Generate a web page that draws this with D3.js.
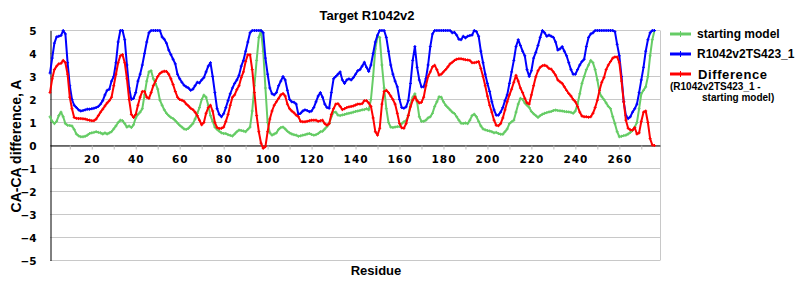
<!DOCTYPE html>
<html lang="en">
<head>
<meta charset="utf-8">
<title>Target R1042v2</title>
<script src="https://d3js.org/d3.v7.min.js"></script>
<style>
  body { margin: 0; background: #fff; }
  .lbl { font-family: "Liberation Sans", Arial, sans-serif; font-weight: bold; fill: #000; }
  .tick text { font-family: "DejaVu Sans", Verdana, sans-serif; font-weight: bold; font-size: 10.5px; fill: #000; }
</style>
</head>
<body>
<script>
var width = 800, height = 300;

// residue numbers run 1..276
var blue = [
  3.15, 3.8, 4.45, 4.72, 4.75, 4.78, 5.0, 4.85, 3.6, 2.6,
  2.0, 1.75, 1.65, 1.55, 1.5, 1.52, 1.55, 1.58, 1.58, 1.6,
  1.62, 1.65, 1.7, 1.8, 1.95, 2.2, 2.4, 2.45, 2.8, 3.0,
  3.6, 4.5, 5.0, 5.0, 4.6, 3.5, 2.5, 2.0, 2.05, 2.3,
  2.8, 3.1, 3.5, 4.0, 4.5, 4.9, 5, 5, 5, 5,
  5, 4.72, 4.62, 4.45, 4.15, 3.95, 3.75, 3.55, 3.1, 2.9,
  2.75, 2.62, 2.55, 2.5, 2.4, 2.45, 2.6, 2.75, 2.72, 2.85,
  2.95, 3.2, 3.45, 3.6, 3.0, 2.3, 1.6, 1.35, 1.25, 1.38,
  1.65, 1.95, 2.25, 2.5, 2.7, 2.85, 3.05, 3.45, 3.7, 4.1,
  4.5, 4.9, 5, 5, 5, 5, 5, 4.9, 3.8, 3.1,
  2.5, 2.25, 2.2, 2.3, 2.6, 2.8, 3.0, 2.85, 2.4, 2.0,
  1.9, 1.88, 1.8, 1.35, 1.4, 1.5, 1.55, 1.52, 1.47, 1.5,
  1.65, 1.9, 2.15, 2.3, 2.1, 1.8, 1.65, 1.62, 2.3, 2.9,
  3.0, 3.1, 3.2, 2.85, 2.7, 2.85, 2.9, 2.85, 2.95, 3.1,
  3.25, 3.3, 3.45, 3.62, 3.4, 3.22, 3.5, 4.0, 4.5, 4.8,
  5, 5, 5, 4.7, 4.1, 3.5, 3.1, 2.8, 2.55, 2.0,
  1.65, 1.62, 1.68, 1.95, 2.7, 3.7, 4.3, 3.4, 2.85, 2.55,
  2.55, 2.9, 3.5, 4.3, 4.85, 5, 5, 5, 5, 5,
  5, 5, 5, 4.9, 4.92, 4.8, 4.62, 4.6, 4.75, 4.68,
  4.75, 4.78, 4.8, 5, 4.95, 4.75, 4.1, 3.6, 3.1, 2.7,
  2.35, 1.9, 1.55, 1.32, 1.32, 1.45, 1.65, 1.95, 2.2, 2.7,
  3.2, 3.7, 4.3, 4.6, 4.35, 4.1, 3.9, 3.3, 3.0, 3.25,
  3.8, 4.05, 4.35, 4.7, 5.0, 4.9, 4.75, 4.8, 4.75, 4.7,
  4.5, 4.15, 4.2, 4.3, 4.1, 3.9, 3.6, 3.3, 3.1, 3.1,
  3.3, 3.5, 3.65, 3.75, 4.3, 4.7, 4.85, 4.9, 5, 5,
  5, 5, 5, 5, 5, 5, 5, 4.95, 4.4, 3.9,
  3.0, 1.9, 1.3, 1.17, 1.25, 1.45, 1.6, 1.8, 2.3, 2.85,
  3.4, 4.1, 4.6, 4.9, 5, 5
];

var red = [
  2.3, 2.9, 3.3, 3.45, 3.55, 3.57, 3.7, 3.6, 3.1, 2.1,
  1.6, 1.22, 1.18, 1.17, 1.17, 1.16, 1.15, 1.12, 1.1, 1.08,
  1.08, 1.15, 1.3, 1.45, 1.58, 1.72, 1.85, 1.95, 2.1, 2.6,
  3.1, 3.6, 3.9, 3.95, 3.6, 2.9, 2.0, 1.35, 1.22, 1.35,
  1.75, 2.1, 2.35, 2.35, 2.1, 2.05, 2.3, 2.6, 2.8, 3.0,
  3.13, 3.2, 3.23, 3.22, 3.1, 2.9, 2.65, 2.35, 2.1, 2.0,
  1.97, 1.92, 1.8, 1.72, 1.62, 1.56, 1.45, 1.3, 1.1, 0.9,
  1.0, 1.4, 1.65, 1.75, 1.5, 1.0, 0.78, 0.74, 0.75, 0.8,
  1.05, 1.35, 1.75, 2.1, 2.2, 2.43, 2.6, 2.95, 3.2, 3.65,
  3.95, 3.95, 3.3, 2.3, 1.3, 0.6, 0.1, -0.12, -0.05, 0.6,
  1.15, 1.5, 1.75, 1.9, 2.05, 2.2, 2.26, 2.15, 1.8, 1.6,
  1.5, 1.42, 1.32, 1.25, 1.05, 1.03, 1.03, 1.05, 1.08, 1.1,
  1.1, 1.1, 1.05, 1.08, 1.1, 0.95, 0.88, 0.95, 1.35, 1.6,
  1.8, 1.82, 1.7, 1.56, 1.6, 1.65, 1.68, 1.7, 1.72, 1.76,
  1.8, 1.8, 1.82, 1.95, 1.95, 1.85, 1.7, 1.2, 0.6, 0.45,
  0.75, 1.8, 2.35, 2.4, 2.3, 2.15, 2.0, 1.8, 1.4, 0.95,
  0.77, 0.75, 0.95, 1.3, 1.68, 1.97, 2.12, 1.95, 1.85, 1.88,
  2.1, 2.6, 3.0, 3.2, 3.42, 3.49, 3.3, 3.06, 3.1, 3.2,
  3.3, 3.42, 3.55, 3.62, 3.7, 3.75, 3.77, 3.77, 3.75, 3.73,
  3.72, 3.7, 3.6, 3.6, 3.62, 3.65, 3.35, 3.0, 2.6, 2.15,
  1.75, 1.45, 1.1, 0.88, 0.86, 0.95, 1.2, 1.55, 1.9, 2.2,
  2.45, 2.75, 3.05, 2.8, 2.5, 2.3, 2.05, 1.85, 1.8, 2.2,
  2.6, 2.99, 3.25, 3.4, 3.47, 3.49, 3.45, 3.35, 3.32, 3.2,
  3.06, 2.85, 2.77, 2.7, 2.55, 2.4, 2.26, 2.15, 2.0, 1.9,
  1.7, 1.45, 1.28, 1.25, 1.25, 1.23, 1.25, 1.4, 1.65, 1.97,
  2.4, 2.75, 2.95, 3.3, 3.5, 3.65, 3.8, 3.85, 3.85, 3.6,
  2.8, 1.9, 1.1, 0.75, 0.68, 0.67, 0.78, 0.5, 0.55, 1.05,
  1.45, 1.5, 1.0, 0.3, 0.02, 0.0
];

var green = [
  1.25, 1.05, 0.95, 1.05, 1.3, 1.45, 1.25, 0.95, 0.88, 0.87,
  0.85, 0.7, 0.5, 0.42, 0.38, 0.38, 0.4, 0.45, 0.52, 0.55,
  0.57, 0.6, 0.57, 0.55, 0.5, 0.55, 0.5, 0.55, 0.6, 0.72,
  0.85, 1.0, 1.1, 1.08, 0.95, 0.8, 0.85, 0.78, 0.9, 1.2,
  1.35, 1.45, 1.6, 2.2, 2.8, 3.2, 3.25, 2.9, 2.7, 2.45,
  1.97, 1.75, 1.55, 1.4, 1.3, 1.22, 1.17, 1.08, 0.98, 0.88,
  0.8, 0.72, 0.7, 0.75, 0.85, 0.95, 1.15, 1.4, 1.65, 2.0,
  2.19, 2.1, 1.75, 1.3, 1.05, 0.8, 0.7, 0.62, 0.55, 0.52,
  0.52, 0.47, 0.44, 0.41, 0.5, 0.6, 0.67, 0.65, 0.63, 0.6,
  0.7, 0.8, 1.5, 2.6, 3.7, 4.7, 5.0, 4.1, 2.5, 1.0,
  0.55, 0.45, 0.5, 0.55, 0.7, 0.78, 0.8, 0.72, 0.62, 0.55,
  0.5, 0.47, 0.45, 0.4, 0.42, 0.45, 0.47, 0.5, 0.52, 0.48,
  0.45, 0.47, 0.52, 0.6, 0.62, 0.72, 0.82, 0.95, 1.25, 1.45,
  1.45, 1.32, 1.3, 1.33, 1.35, 1.38, 1.4, 1.42, 1.45, 1.48,
  1.5, 1.52, 1.55, 1.56, 1.6, 1.55, 2.0, 3.0, 4.2, 4.75,
  4.7, 3.5, 2.5, 1.6, 1.0, 0.8, 0.78, 0.8, 0.82, 0.83,
  0.95, 1.03, 1.08, 1.3, 1.8, 2.1, 2.25, 1.9, 1.25, 1.05,
  1.05, 1.1, 1.2, 1.25, 1.4, 1.7, 1.9, 2.12, 2.1, 1.9,
  1.75, 1.65, 1.55, 1.45, 1.39, 1.25, 1.1, 0.97, 0.96, 0.98,
  0.95, 1.1, 1.3, 1.36, 1.25, 1.05, 0.85, 0.72, 0.68, 0.65,
  0.63, 0.6, 0.55, 0.57, 0.52, 0.49, 0.49, 0.6, 0.72, 0.95,
  1.03, 1.1, 1.45, 1.8, 2.05, 2.0, 1.85, 1.75, 1.65, 1.48,
  1.38, 1.3, 1.22, 1.3, 1.36, 1.4, 1.43, 1.46, 1.48, 1.52,
  1.54, 1.52, 1.51, 1.5, 1.48, 1.47, 1.46, 1.44, 1.4, 1.5,
  1.8, 2.25, 2.7, 3.0, 3.3, 3.5, 3.7, 3.6, 3.3, 2.85,
  2.3, 2.12, 2.0, 1.85, 1.7, 1.6, 1.25, 0.95, 0.6, 0.38,
  0.4, 0.43, 0.45, 0.5, 0.57, 0.65, 0.8, 1.0, 1.6, 2.25,
  2.4, 2.55, 3.0, 3.9, 4.6, 5.0
];

var xTicks = d3.range(10, 271, 10);
var yTicks = d3.range(-5, 6, 1);

var series = [
  {name: "starting model", color: "#66cc66", values: green},
  {name: "R1042v2TS423_1", color: "#0000ff", values: blue},
  {name: "Difference", color: "#ff0000", values: red}
];

var svg = d3.select("body").append("svg")
    .attr("width", width)
    .attr("height", height);

var x = d3.scaleLinear().domain([1, 278.5]).range([50, 660]);
var y = d3.scaleLinear().domain([-5, 5]).range([260.5, 30.5]);

// grid
svg.append("g").selectAll("line")
    .data(yTicks)
    .enter().append("line")
    .attr("x1", 50).attr("x2", 660)
    .attr("y1", function(d) { return y(d); })
    .attr("y2", function(d) { return y(d); })
    .style("stroke", "#c8c8c8");

svg.append("line")
    .attr("x1", 660.5).attr("x2", 660.5)
    .attr("y1", y(5)).attr("y2", y(-5))
    .style("stroke", "#c8c8c8");

// x axis on the zero line
var xAxis = svg.append("g")
    .attr("transform", "translate(0," + y(0) + ")")
    .call(d3.axisBottom(x).tickValues(xTicks).tickSize(4).tickPadding(5)
      .tickFormat(function(d) { return d % 20 === 0 ? d : ""; }));
xAxis.select(".domain").attr("d", "M50.5,0.5H660.5").style("stroke", "#000");
xAxis.selectAll(".tick line").style("stroke", "#bbb");
xAxis.selectAll(".tick text").attr("dy", "0.8em").style("letter-spacing", "1px");

// y axis
var yAxis = svg.append("g")
    .attr("transform", "translate(50.5,0)")
    .call(d3.axisLeft(y).tickValues(yTicks).tickSize(0).tickPadding(14));
yAxis.select(".domain").style("stroke", "#000");
yAxis.selectAll(".tick text").attr("dy", "0.35em");

// lines
var line = d3.line()
    .x(function(d, i) { return x(i + 1); })
    .y(function(d) { return y(d); });

var cross = "M-1.5,0H1.5M0,-1.5V1.5";

series.forEach(function(s) {
  svg.append("path")
      .datum(s.values)
      .attr("d", line)
      .style("fill", "none")
      .style("stroke", s.color)
      .style("stroke-width", 2)
      .style("stroke-linejoin", "round");
  svg.append("g").selectAll("path")
      .data(s.values)
      .enter().append("path")
      .attr("transform", function(d, i) { return "translate(" + x(i + 1) + "," + y(d) + ")"; })
      .attr("d", cross)
      .style("stroke", s.color)
      .style("stroke-width", 1);
});

// titles
svg.append("text").attr("class", "lbl")
    .attr("x", 367).attr("y", 20)
    .attr("text-anchor", "middle")
    .style("font-size", "13px")
    .text("Target R1042v2");

svg.append("text").attr("class", "lbl")
    .attr("transform", "translate(21,146) rotate(-90)")
    .attr("text-anchor", "middle")
    .style("font-size", "14px")
    .text("CA-CA difference, A");

svg.append("text").attr("class", "lbl")
    .attr("x", 376).attr("y", 275)
    .attr("text-anchor", "middle")
    .style("font-size", "13px")
    .text("Residue");

// legend
var legend = svg.selectAll(".legend")
    .data(series)
    .enter().append("g")
    .attr("class", "legend")
    .attr("transform", function(d, i) { return "translate(670," + (34 + i * 20) + ")"; });

legend.append("line")
    .attr("x1", 0).attr("x2", 21)
    .style("stroke", function(d) { return d.color; })
    .style("stroke-width", 3);

legend.append("path")
    .attr("transform", "translate(10.5,0)")
    .attr("d", "M0,-3V3")
    .style("stroke", function(d) { return d.color; })
    .style("stroke-width", 1);

legend.append("text").attr("class", "lbl")
    .attr("x", function(d, i) { return i === 2 ? 28 : 27; })
    .attr("y", function(d, i) { return i === 2 ? 4.5 : 4; })
    .style("font-size", function(d, i) { return i === 2 ? "13px" : "12px"; })
    .style("letter-spacing", function(d, i) { return i === 2 ? "0.6px" : "0px"; })
    .text(function(d) { return d.name; });

svg.append("text").attr("class", "lbl")
    .attr("x", 670).attr("y", 90)
    .style("font-size", "10px")
    .text("(R1042v2TS423_1 -");
svg.append("text").attr("class", "lbl")
    .attr("x", 702).attr("y", 101)
    .style("font-size", "10px")
    .text("starting model)");
</script>
</body>
</html>
